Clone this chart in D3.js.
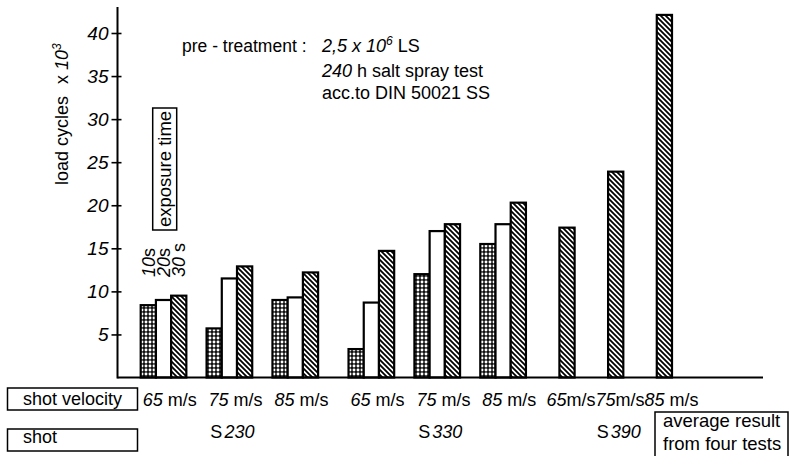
<!DOCTYPE html>
<html>
<head>
<meta charset="utf-8">
<script src="https://cdn.jsdelivr.net/npm/d3@7"></script>
<style>
  html, body { margin: 0; padding: 0; background: #fff; }
  svg { display: block; font-family: "Liberation Sans", Arial, Helvetica, sans-serif; }
</style>
</head>
<body>
<svg id="chart" width="790" height="456"></svg>
<script>
// ---------------- data ----------------
const shots = ["S230", "S330", "S390"];
const shotNumbers = ["230", "330", "390"];
const velocities = ["65", "75", "85"];
const exposureTimes = ["10", "20", "30"];
// groups in order: S230 65/75/85, S330 65/75/85, S390 65/75/85
const values10s = [8.4, 5.7, 9.0, 3.3, 12.0, 15.5, null, null, null];
const values20s = [9.0, 11.5, 9.3, 8.7, 17.0, 17.8, null, null, null];
const values30s = [9.5, 12.9, 12.2, 14.7, 17.8, 20.3, 17.4, 23.9, 42.1];
const yTicks = [5, 10, 15, 20, 25, 30, 35, 40];

// ---------------- setup ----------------
const svg = d3.select("#chart");
const FONT = 18;
const series = [values10s, values20s, values30s];
const fills = ["url(#dots)", "#fff", "url(#hatch)"];

const defs = svg.append("defs");
const dots = defs.append("pattern").attr("id", "dots").attr("patternUnits", "userSpaceOnUse")
  .attr("width", 4).attr("height", 4);
dots.append("rect").attr("width", 4).attr("height", 4).attr("fill", "#111");
dots.append("circle").attr("cx", 2).attr("cy", 2).attr("r", 1.45).attr("fill", "#fff");

const hatch = defs.append("pattern").attr("id", "hatch").attr("patternUnits", "userSpaceOnUse")
  .attr("width", 5).attr("height", 5);
hatch.append("rect").attr("width", 5).attr("height", 5).attr("fill", "#fff");
hatch.append("path").attr("d", "M0,0 L5,5 M-1,4 L1,6 M4,-1 L6,1")
  .attr("stroke", "#000").attr("stroke-width", 1.8);

// build groups
const groups = [];
shots.forEach((s, si) => velocities.forEach((v, vi) => {
  const gi = si * 3 + vi;
  const present = series.map((arr, k) => arr[gi] != null ? k : -1).filter(k => k >= 0);
  groups.push({ gi, si, vi, shot: s, vel: v, present });
}));

// slot layout (in bar-width units)
let cursor = 0;
groups.forEach((g, i) => {
  g.start = cursor;
  g.width = g.present.length;
  const next = groups[i + 1];
  if (next) {
    const single = g.width === 1 || next.present.length === 1;
    const gap = single ? 2.2 : (next.si === g.si ? 1.33 : 2.0);
    cursor += g.width + gap;
  } else cursor += g.width;
});
const totalSlots = cursor;

const x = d3.scaleLinear().domain([0, totalSlots]).range([140.7, 672]);
const y = d3.scaleLinear().domain([0, 40]).range([377.5, 33]);
const axisX = 117.5;

// bars
const bars = [];
groups.forEach(g => g.present.forEach((k, j) => {
  bars.push({ g, k, slot: g.start + j, value: series[k][g.gi] });
}));

svg.append("g").selectAll("rect").data(bars).join("rect")
  .attr("x", d => x(d.slot))
  .attr("width", d => x(d.slot + 1) - x(d.slot))
  .attr("y", d => y(d.value))
  .attr("height", d => y(0) - y(d.value))
  .attr("fill", d => fills[d.k])
  .attr("stroke", "#000")
  .attr("stroke-width", 2.2);

// baseline
svg.append("line").attr("x1", axisX).attr("x2", 763).attr("y1", y(0)).attr("y2", y(0))
  .attr("stroke", "#000").attr("stroke-width", 2);

// y axis
const yAxis = d3.axisLeft(y).tickValues(yTicks).tickSize(6).tickPadding(3)
  .tickFormat(d3.format("d"));
const ya = svg.append("g").attr("transform", `translate(${axisX},0)`).call(yAxis);
ya.select(".domain").remove();
ya.selectAll(".tick line").attr("x1", 4).attr("stroke-width", 1.6);
ya.selectAll(".tick text").attr("font-size", 19).attr("font-style", "italic")
  .attr("font-family", "'Liberation Sans', Arial, sans-serif").attr("fill", "#000");
svg.append("line").attr("x1", axisX).attr("x2", axisX).attr("y1", 7).attr("y2", y(0) + 1)
  .attr("stroke", "#000").attr("stroke-width", 2);

// y axis title
const yt = svg.append("text").attr("transform", "translate(68,185) rotate(-90)")
  .attr("font-size", FONT);
yt.append("tspan").text("load cycles");
yt.append("tspan").attr("dx", 12).text("x ");
yt.append("tspan").attr("font-style", "italic").text("10");
yt.append("tspan").attr("font-style", "italic").attr("font-size", 12).attr("dy", -7).text("3");

// exposure time box + labels
svg.append("rect").attr("x", 152.7).attr("y", 108).attr("width", 24).attr("height", 122)
  .attr("fill", "none").attr("stroke", "#000").attr("stroke-width", 1.5);
svg.append("text").attr("transform", "translate(171,169) rotate(-90)")
  .attr("text-anchor", "middle").attr("font-size", 18.5).text("exposure time");
exposureTimes.forEach((t, k) => {
  const cx = x(groups[0].start + k + 0.5);
  const tx = svg.append("text").attr("transform", `translate(${cx + 6.5},277) rotate(-90)`)
    .attr("font-size", FONT);
  tx.append("tspan").attr("font-style", "italic").text(t);
  tx.append("tspan").text(k === 2 ? " s" : "s");
});

// pre-treatment annotation
svg.append("text").attr("x", 182).attr("y", 52).attr("font-size", 17.5).text("pre - treatment :");
const a1 = svg.append("text").attr("x", 322).attr("y", 52).attr("font-size", FONT);
a1.append("tspan").attr("font-style", "italic").text("2,5 x 10");
a1.append("tspan").attr("font-style", "italic").attr("font-size", 12).attr("dy", -7).text("6");
a1.append("tspan").attr("dy", 7).text(" LS");
const a2 = svg.append("text").attr("x", 322).attr("y", 77).attr("font-size", FONT);
a2.append("tspan").attr("font-style", "italic").text("240");
a2.append("tspan").text(" h salt spray test");
svg.append("text").attr("x", 322).attr("y", 99).attr("font-size", FONT).text("acc.to DIN 50021 SS");

// bottom legend boxes
svg.append("rect").attr("x", 7.5).attr("y", 388).attr("width", 130).attr("height", 22)
  .attr("fill", "none").attr("stroke", "#000").attr("stroke-width", 1.5);
svg.append("text").attr("x", 23).attr("y", 405).attr("font-size", FONT).text("shot velocity");
svg.append("rect").attr("x", 7.5).attr("y", 429).attr("width", 130).attr("height", 22)
  .attr("fill", "none").attr("stroke", "#000").attr("stroke-width", 1.5);
svg.append("text").attr("x", 23).attr("y", 443).attr("font-size", FONT).text("shot");

// velocity labels
let prevEnd = null;
groups.forEach(g => {
  const single = g.present.length === 1;
  let sx;
  if (!single) sx = x(g.start) + 2;
  else sx = prevEnd != null && groups[g.gi - 1].present.length === 1 ? prevEnd : x(g.start) - 13;
  const t = svg.append("text").attr("x", sx).attr("y", 406).attr("font-size", FONT);
  t.append("tspan").attr("font-style", "italic").text(g.vel);
  const tight = single && g.vi < 2;
  t.append("tspan").text(tight ? "m/s" : " m/s");
  prevEnd = sx + t.node().getComputedTextLength();
});

// shot labels
shots.forEach((s, si) => {
  const mid = groups[si * 3 + 1];
  const cx = x(mid.start + mid.present.length / 2) + 3;
  const t = svg.append("text").attr("x", cx).attr("y", 438).attr("text-anchor", "middle")
    .attr("font-size", FONT);
  t.append("tspan").text("S");
  t.append("tspan").attr("dx", 2).attr("font-style", "italic").text(shotNumbers[si]);
});

// average result box
svg.append("path").attr("d", "M655,456 L655,412 L788,412 L788,456")
  .attr("fill", "none").attr("stroke", "#000").attr("stroke-width", 1.5);
svg.append("text").attr("x", 663).attr("y", 427).attr("font-size", 18.5).text("average result");
svg.append("text").attr("x", 663).attr("y", 450).attr("font-size", 18.5).text("from four tests");
</script>
</body>
</html>
